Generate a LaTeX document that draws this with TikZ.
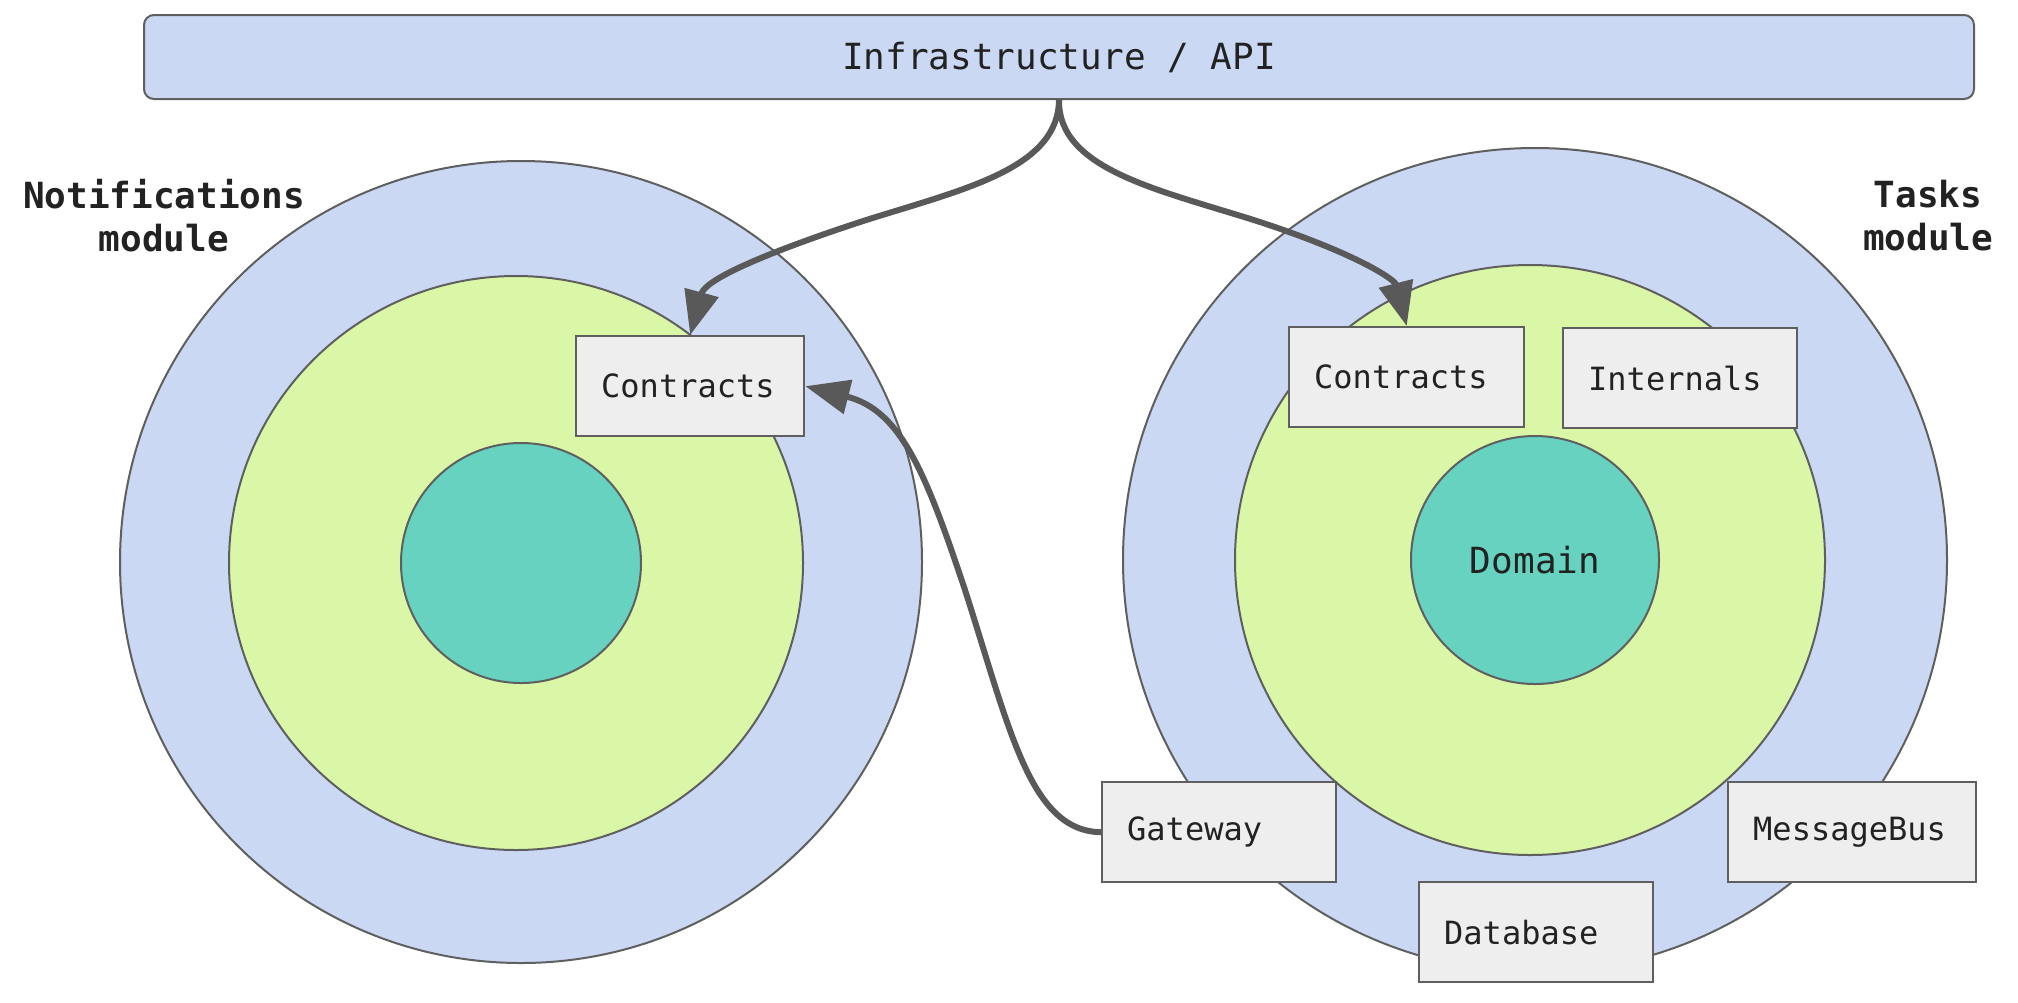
\documentclass[tikz,border=0pt]{standalone}
\usepackage{fontspec}
\setmonofont{DejaVu Sans Mono}
\usetikzlibrary{arrows.meta}
\definecolor{outerblue}{HTML}{CBD8F3}
\definecolor{midgreen}{HTML}{DAF7A8}
\definecolor{coreteal}{HTML}{66D2BF}
\definecolor{boxfill}{HTML}{EEEEEE}
\definecolor{edgec}{HTML}{5F5F5F}
\definecolor{arrowc}{HTML}{595959}
\definecolor{ink}{HTML}{222222}
\tikzset{
  ring/.style={circle, draw=edgec, line width=1pt, inner sep=0pt, minimum size=#1},
  box/.style={draw=edgec, fill=boxfill, line width=1.2pt, rectangle, minimum height=50pt,
    inner xsep=12.5pt, inner ysep=0pt, align=left, anchor=north west, text width=#1,
    font=\ttfamily\fontsize{16}{20}\selectfont, text=ink},
  modlabel/.style={align=center, text=ink, font=\ttfamily\bfseries\fontsize{18}{21.5}\selectfont},
  conn/.style={draw=arrowc, line width=3pt, -{Triangle[length=22pt,width=17pt]}}
}
\begin{document}
\begin{tikzpicture}[x=0.5pt,y=-0.5pt]
\useasboundingbox (0,0) rectangle (2018,1002);
% top bar
\node[draw=edgec, fill=outerblue, line width=1pt, rounded corners=5pt, minimum width=915pt, minimum height=42pt,
  inner sep=0pt, text=ink, font=\ttfamily\fontsize{18}{20}\selectfont] (infra) at (1059,57) {Infrastructure / API};
% left module
\node[ring=401pt, fill=outerblue] (lo) at (521,562) {};
\node[ring=287pt, fill=midgreen] (lm) at (516,563) {};
\node[ring=120pt, fill=coreteal] (lcore) at (521,563) {};
\node[box=89pt] (lcon) at (575,335) {Contracts};
% right module
\node[ring=412pt, fill=outerblue] (ro) at (1535,560) {};
\node[ring=295pt, fill=midgreen] (rm) at (1530,560) {};
\node[ring=124pt, fill=coreteal, text=ink, font=\ttfamily\fontsize{18}{20}\selectfont] (rcore) at (1535,560) {Domain};
\node[box=92.5pt] (rcon) at (1288,326) {Contracts};
\node[box=92pt] (rint) at (1562,327) {Internals};
\node[box=92pt] (gw) at (1101,781) {Gateway};
\node[box=99pt] (mb) at (1727,781) {MessageBus};
\node[box=92pt] (db) at (1418,881) {Database};
% labels
\node[modlabel] (nl) at (164,216) {Notifications\\module};
\node[modlabel] (tl) at (1928,216) {Tasks\\module};
% connectors
\draw[conn] (infra.south) .. controls (1058,170) and (960,190) .. (860,222)
  .. controls (760,255) and (705,280) .. (lcon.north);
\draw[conn] (infra.south) .. controls (1058,170) and (1160,190) .. (1260,222)
  .. controls (1360,255) and (1395,280) .. (rcon.north);
\draw[conn] (gw.west) .. controls (1030,831) and (1010,730) .. (965,590)
  .. controls (925,470) and (900,410) .. (lcon.east);
\end{tikzpicture}
\end{document}
